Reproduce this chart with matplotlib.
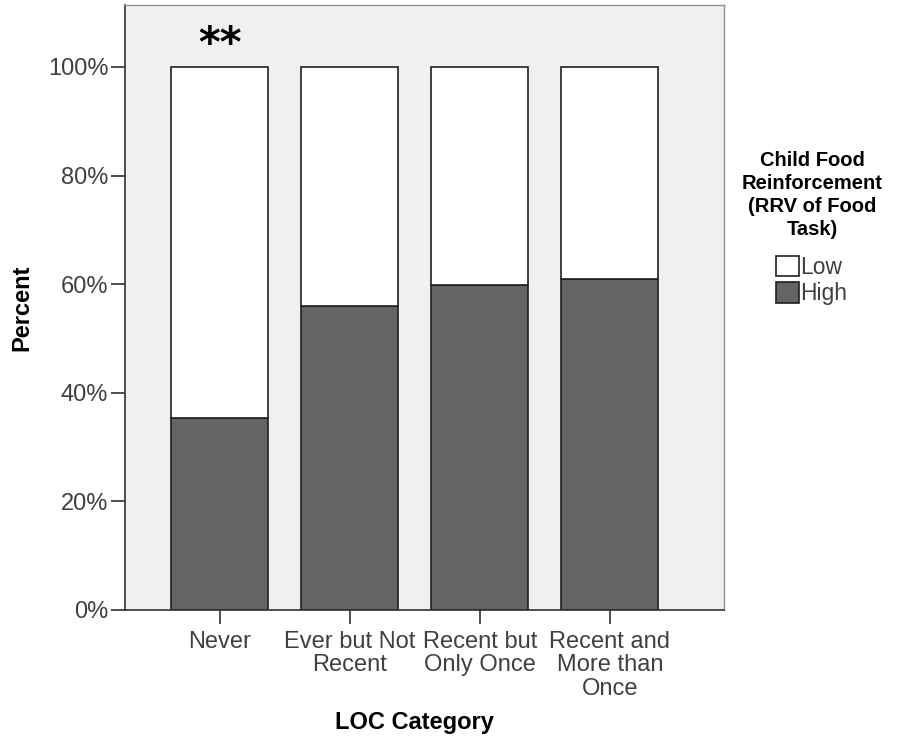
import numpy as np
import matplotlib.pyplot as plt

plt.rcParams['font.family'] = ['Liberation Sans', 'DejaVu Sans']

categorias = ["Never", "Ever but Not\nRecent", "Recent but\nOnly Once", "Recent and\nMore than\nOnce"]
high = [35.4, 56.0, 59.9, 61.0]
low = [100 - h for h in high]
yticks = [0, 20, 40, 60, 80, 100]

fig = plt.figure(figsize=(9, 7.44), dpi=100)
ax = fig.add_axes([125/900, 1 - 610/744, (724-125)/900, (610-5)/744])
ax.set_facecolor('#f0f0f0')

x = np.arange(len(categorias))
ax.bar(x, high, width=0.746, color='#646464', edgecolor='#202020', linewidth=1.2, label='High')
ax.bar(x, low, bottom=high, width=0.746, color='white', edgecolor='#202020', linewidth=1.2, label='Low')

ax.set_xlim(-0.73, 3.877)
ax.set_ylim(0, 111.4)
ax.set_yticks(yticks)
ax.set_yticklabels(["{}%".format(t) for t in yticks], fontsize=17, color='#404040')
ax.set_xticks(x)
ax.set_xticklabels(categorias, fontsize=17, color='#404040', linespacing=1.08)
ax.tick_params(axis='both', length=10, width=1.2, color='#303030')
ax.tick_params(axis='y', pad=2)
ax.tick_params(axis='x', pad=5)

for s in ['left', 'bottom']:
    ax.spines[s].set_color('#303030')
    ax.spines[s].set_linewidth(1.2)
for s in ['top', 'right']:
    ax.spines[s].set_color('#909090')
    ax.spines[s].set_linewidth(1.0)

# significancia
ax.text(0, 104, "**", ha='center', va='center', fontsize=30, fontweight='bold', family='DejaVu Sans')

fig.text(22/900, 1 - 308/744, "Percent", rotation=90, ha='center', va='center', fontsize=17, fontweight='bold')
fig.text(414/900, 1 - 723/744, "LOC Category", ha='center', va='center', fontsize=17, fontweight='bold')

h, l = ax.get_legend_handles_labels()
leg = fig.legend(h[::-1], l[::-1], loc='center', bbox_to_anchor=(812/900, 1 - 228/744),
                 frameon=False, fontsize=16.5, handlelength=1.0, handleheight=1.0,
                 handletextpad=0.05, labelspacing=0.15,
                 title="Child Food\nReinforcement\n(RRV of Food\nTask)",
                 title_fontproperties={'weight': 'bold', 'size': 14.5})
leg._legend_box.align = 'center'
leg._legend_box.sep = 12
leg.get_title().set_multialignment('center')
leg.get_title().set_linespacing(1.27)
for t in leg.get_texts():
    t.set_color('#404040')

fig.savefig('out.png', dpi=100)
